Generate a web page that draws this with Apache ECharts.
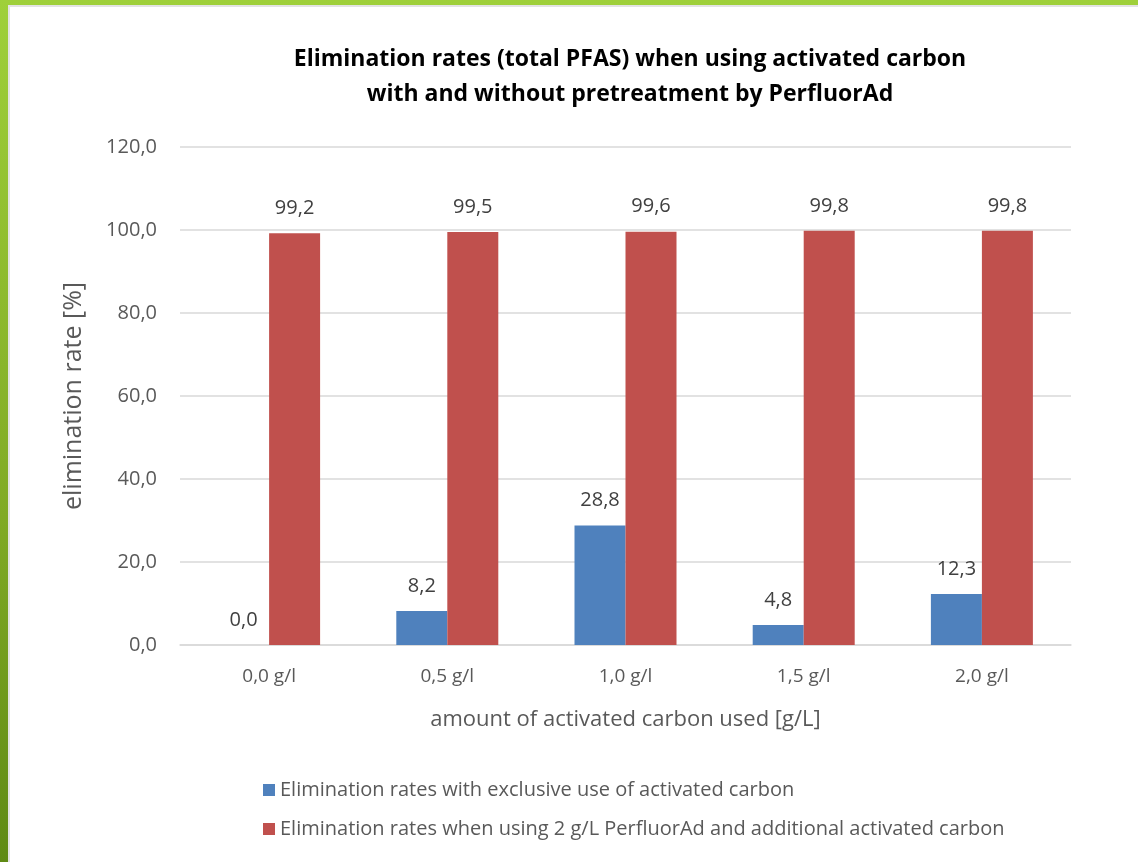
<!DOCTYPE html>
<html>
<head>
<meta charset="utf-8">
<script src="https://cdn.jsdelivr.net/npm/echarts@6/dist/echarts.min.js"></script>
<style>
  html, body { margin:0; padding:0; width:1138px; height:862px; overflow:hidden; }
  #frame { position:absolute; left:0; top:0; width:1138px; height:862px;
    background: linear-gradient(180deg, #9fd03a 0%, #80aa25 60%, #5f8a14 100%); }
  #paper { position:absolute; left:8px; top:5px; right:0; bottom:0; background:#fff;
    border-left:2px solid #e3e3e3; border-top:2px solid #e3e3e3; }
  #chart { position:absolute; left:0; top:0; width:1138px; height:862px; }
</style>
</head>
<body>
<div id="frame"></div>
<div id="paper"></div>
<div id="chart"></div>
<script>
// categories (activated carbon dose)
const categories = ['0,0 g/l', '0,5 g/l', '1,0 g/l', '1,5 g/l', '2,0 g/l'];
// elimination rate [%]
const carbonOnly = [0.0, 8.2, 28.8, 4.8, 12.3];
const withPerfluorAd = [99.2, 99.5, 99.6, 99.8, 99.8];
const seriesNames = [
  'Elimination rates with exclusive use of activated carbon',
  'Elimination rates when using 2 g/L PerfluorAd and additional activated carbon'
];

const fmt = v => Number(v).toFixed(1).replace('.', ',');
const font = 'Open Sans';
const gray = '#595959';

let myChart = echarts.init(document.getElementById('chart'));
myChart.setOption({
  title: {
    text: 'Elimination rates (total PFAS) when using activated carbon\nwith and without pretreatment by PerfluorAd',
    left: 625, top: 37, textAlign: 'center',
    textStyle: { fontFamily: font, fontSize: 23, fontWeight: 'bold', color: '#000', lineHeight: 35 }
  },
  legend: {
    orient: 'vertical', left: 258, top: 775, itemGap: 19,
    itemWidth: 12, itemHeight: 12, icon: 'rect', itemStyle: { borderWidth: 0 },
    textStyle: { fontFamily: font, fontSize: 20, color: gray },
    data: seriesNames
  },
  grid: { left: 180, right: 67, top: 147, bottom: 217 },
  xAxis: {
    type: 'category', data: categories,
    name: 'amount of activated carbon used [g/L]', nameLocation: 'middle', nameGap: 64,
    nameTextStyle: { fontFamily: font, fontSize: 22, color: gray },
    axisLine: { lineStyle: { color: '#d9d9d9', width: 1.5 } },
    axisTick: { show: false },
    axisLabel: { fontFamily: font, fontSize: 19, color: gray, margin: 22 }
  },
  yAxis: {
    type: 'value', min: 0, max: 120, interval: 20,
    name: 'elimination rate [%]', nameLocation: 'middle', nameGap: 94,
    nameTextStyle: { fontFamily: font, fontSize: 25, color: gray },
    axisLabel: { fontFamily: font, fontSize: 20, color: gray, margin: 23, formatter: fmt },
    splitLine: { lineStyle: { color: '#d9d9d9', width: 1.5 } }
  },
  series: [
    {
      name: seriesNames[0], type: 'bar', data: carbonOnly,
      barWidth: 51, barGap: '0%',
      itemStyle: { color: '#4f81bd' },
      label: { show: true, position: 'top', distance: 15, formatter: p => fmt(p.value),
        fontFamily: font, fontSize: 20, color: '#404040' }
    },
    {
      name: seriesNames[1], type: 'bar', data: withPerfluorAd,
      barWidth: 51, barGap: '0%',
      itemStyle: { color: '#c0504d' },
      label: { show: true, position: 'top', distance: 15, formatter: p => fmt(p.value),
        fontFamily: font, fontSize: 20, color: '#404040' }
    }
  ]
});
</script>
</body>
</html>
